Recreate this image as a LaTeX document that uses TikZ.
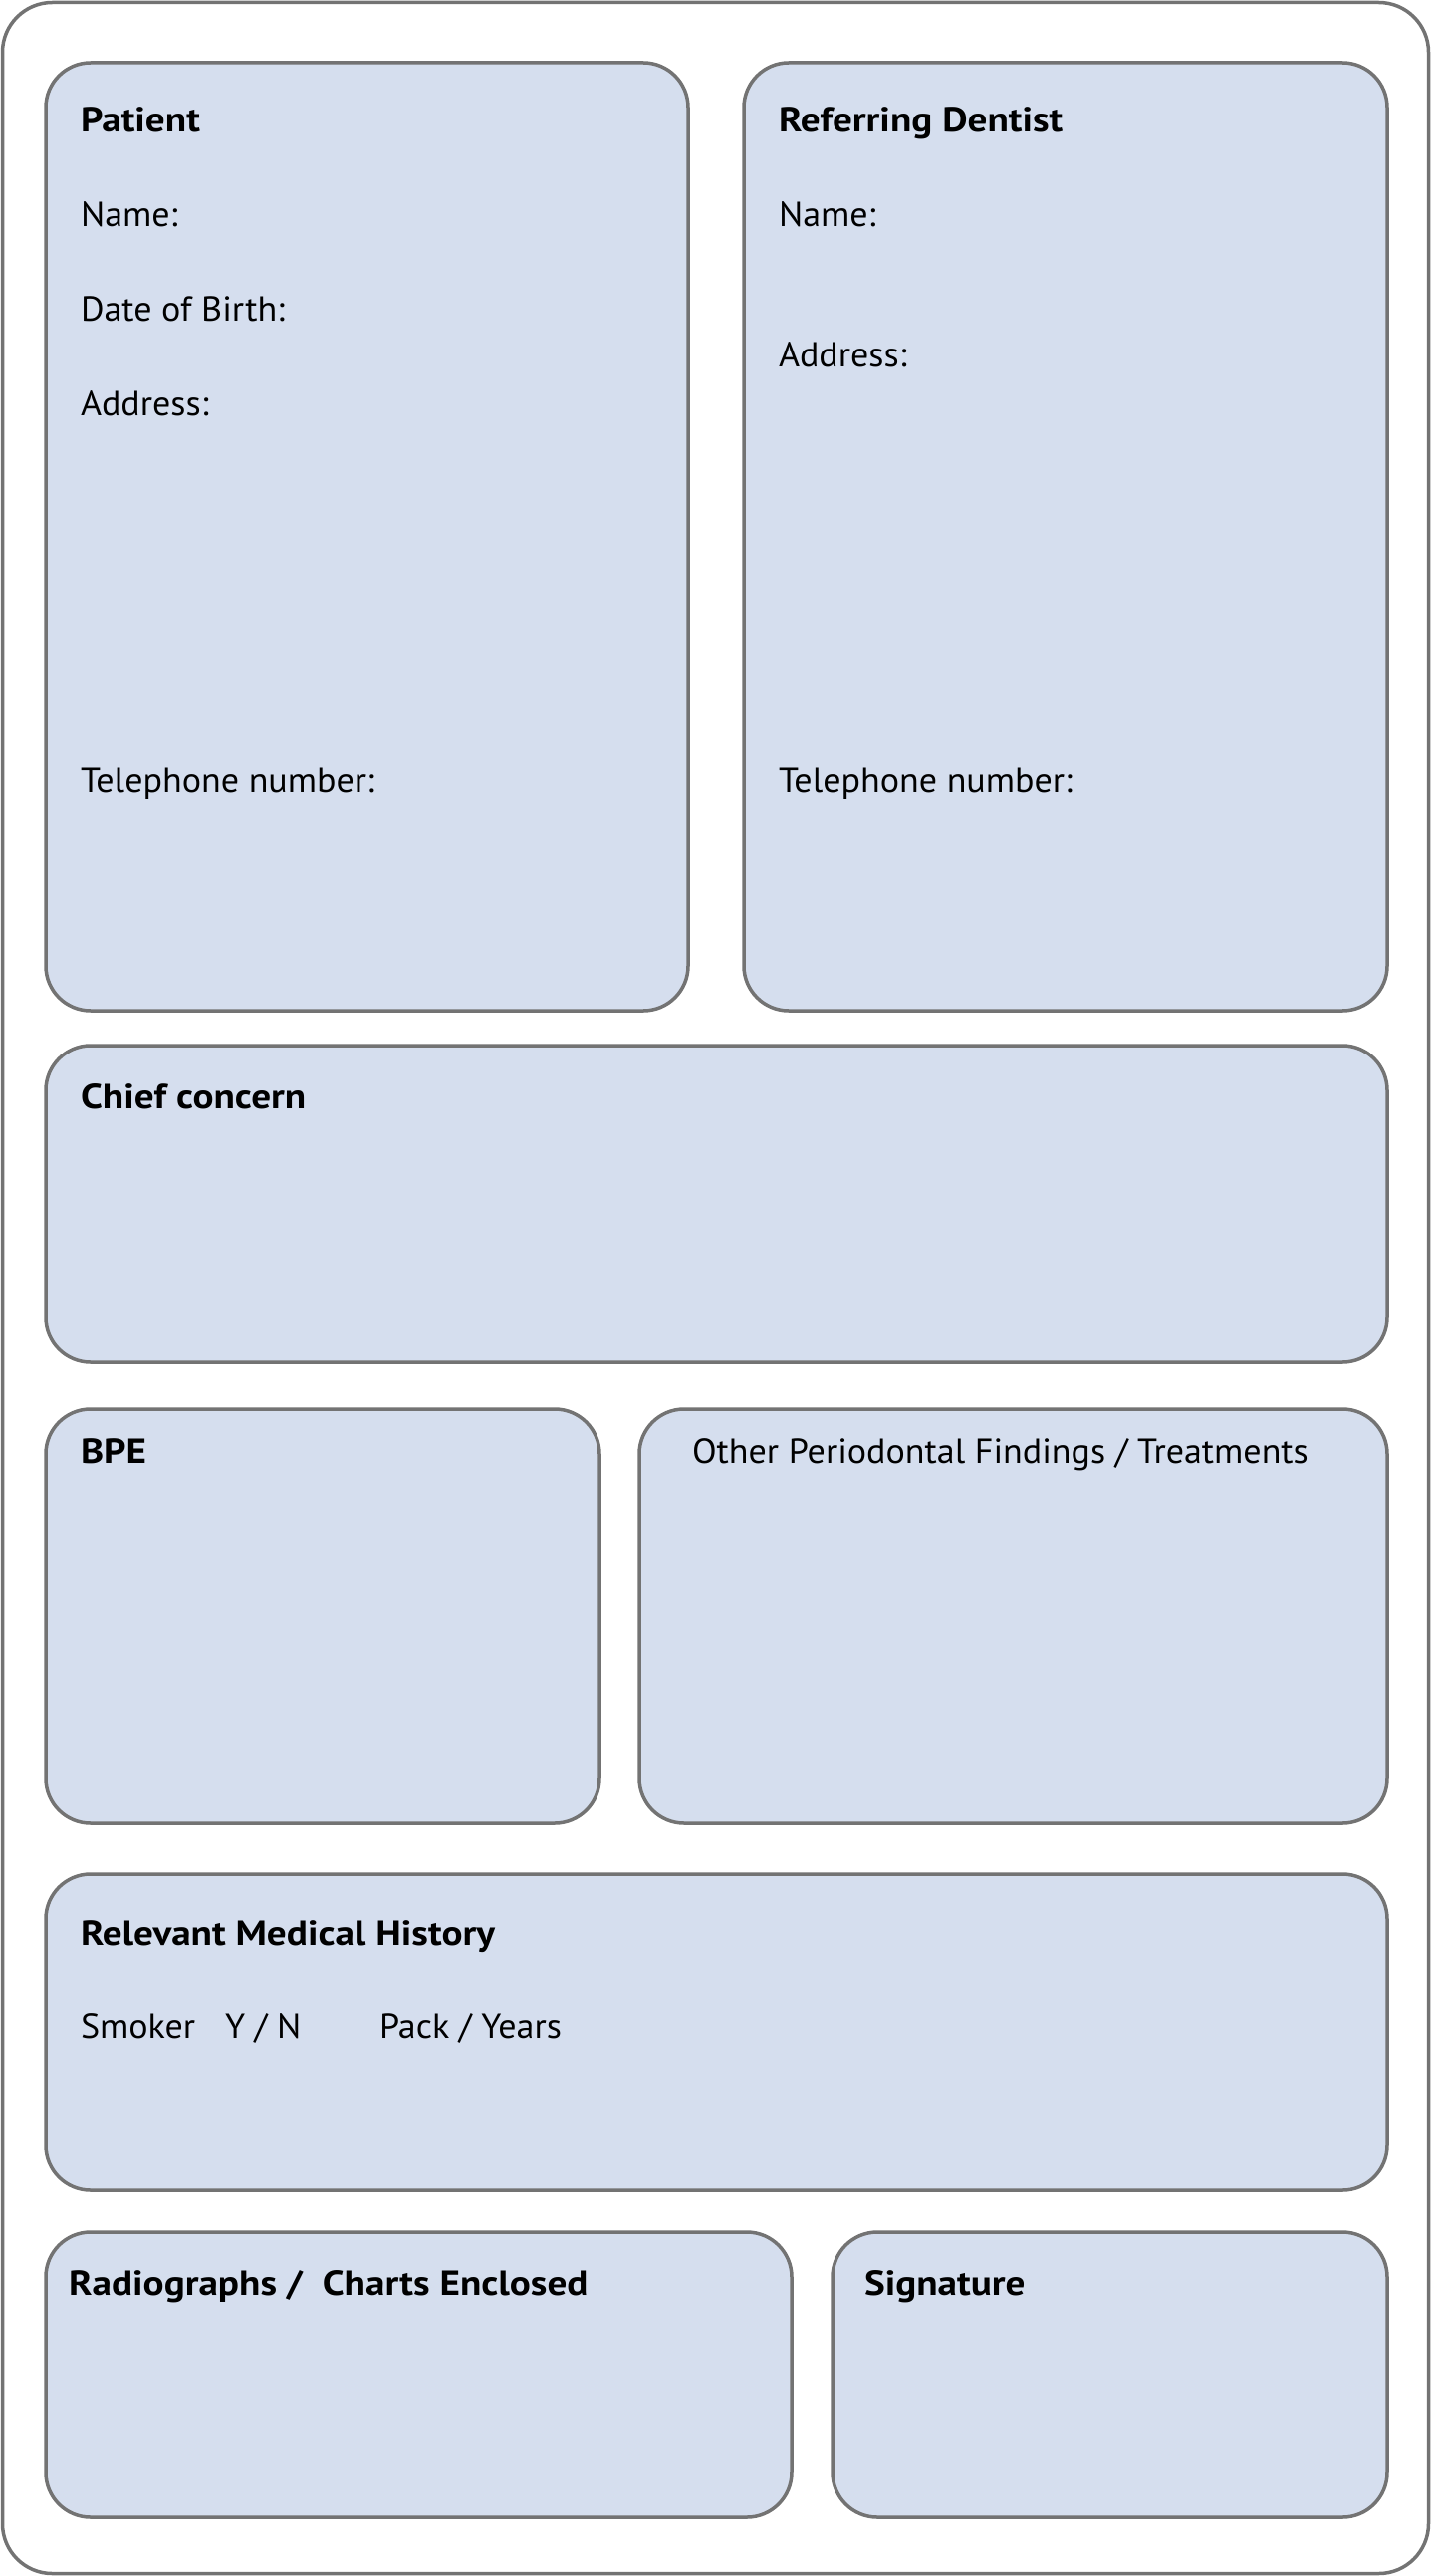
\documentclass[tikz,border=0pt]{standalone}
\usepackage{fontspec}
\setmainfont{PT Sans}[FakeStretch=1.03]
\newfontfamily\headfont{PT Sans}[FakeStretch=1.12]
\begin{document}
\begin{tikzpicture}[x=1pt,y=-1pt]
\definecolor{edgegray}{RGB}{115,115,115}
\definecolor{boxfill}{RGB}{213,222,238}
\tikzset{
  panel/.style={draw=edgegray, line width=3.5pt, fill=boxfill, rounded corners=45pt, anchor=north west, inner sep=0pt, outer sep=0pt},
  frame/.style={draw=edgegray, line width=3.5pt, fill=white, rounded corners=50pt, anchor=north west, inner sep=0pt, outer sep=0pt},
  lbl/.style={anchor=base west, inner sep=0pt, outer sep=0pt, text=black, font=\fontsize{35}{42}\selectfont},
  hlbl/.style={lbl, font=\fontsize{35}{42}\selectfont\headfont\bfseries}
}
\useasboundingbox (0,0) rectangle (1437,2587);
% outer frame
\node[frame, minimum width=1432pt, minimum height=2582pt] (outer) at (2.5,2.5) {};
% panels
\node[panel, minimum width=645pt, minimum height=952pt] (patient) at (46,63) {};
\node[panel, minimum width=646pt, minimum height=952pt] (dentist) at (747,63) {};
\node[panel, minimum width=1347pt, minimum height=318pt] (concern) at (46,1050) {};
\node[panel, minimum width=556pt, minimum height=416pt] (bpe) at (46,1415) {};
\node[panel, minimum width=751pt, minimum height=416pt] (other) at (642,1415) {};
\node[panel, minimum width=1347pt, minimum height=317pt] (medical) at (46,1882) {};
\node[panel, minimum width=749pt, minimum height=286pt] (radio) at (46,2242) {};
\node[panel, minimum width=557pt, minimum height=286pt] (sign) at (836,2242) {};
% patient texts
\node[hlbl] (pt) at (81,133) {Patient};
\node[lbl] (pname) at (81,228) {Name:};
\node[lbl] (pdob) at (81,323) {Date of Birth:};
\node[lbl] (paddr) at (81,417) {Address:};
\node[lbl] (ptel) at (81,795) {Telephone number:};
% dentist texts
\node[hlbl] (dt) at (782,133) {Referring Dentist};
\node[lbl] (dname) at (782,228) {Name:};
\node[lbl] (daddr) at (782,368) {Address:};
\node[lbl] (dtel) at (782,795) {Telephone number:};
% others
\node[hlbl] (ct) at (81,1113) {Chief concern};
\node[hlbl] (bt) at (81,1469) {BPE};
\node[lbl] (ot) at (695,1469) {Other Periodontal Findings / Treatments};
\node[hlbl] (mt) at (81,1953) {Relevant Medical History};
\node[lbl] (smoker) at (81,2047) {Smoker};
\node[lbl] (yn) at (226,2047) {Y / N};
\node[lbl] (pack) at (381,2047) {Pack / Years};
\node[hlbl] (rt) at (69,2305) {Radiographs /~ Charts Enclosed};
\node[hlbl] (st) at (868,2305) {Signature};
\end{tikzpicture}
\end{document}
